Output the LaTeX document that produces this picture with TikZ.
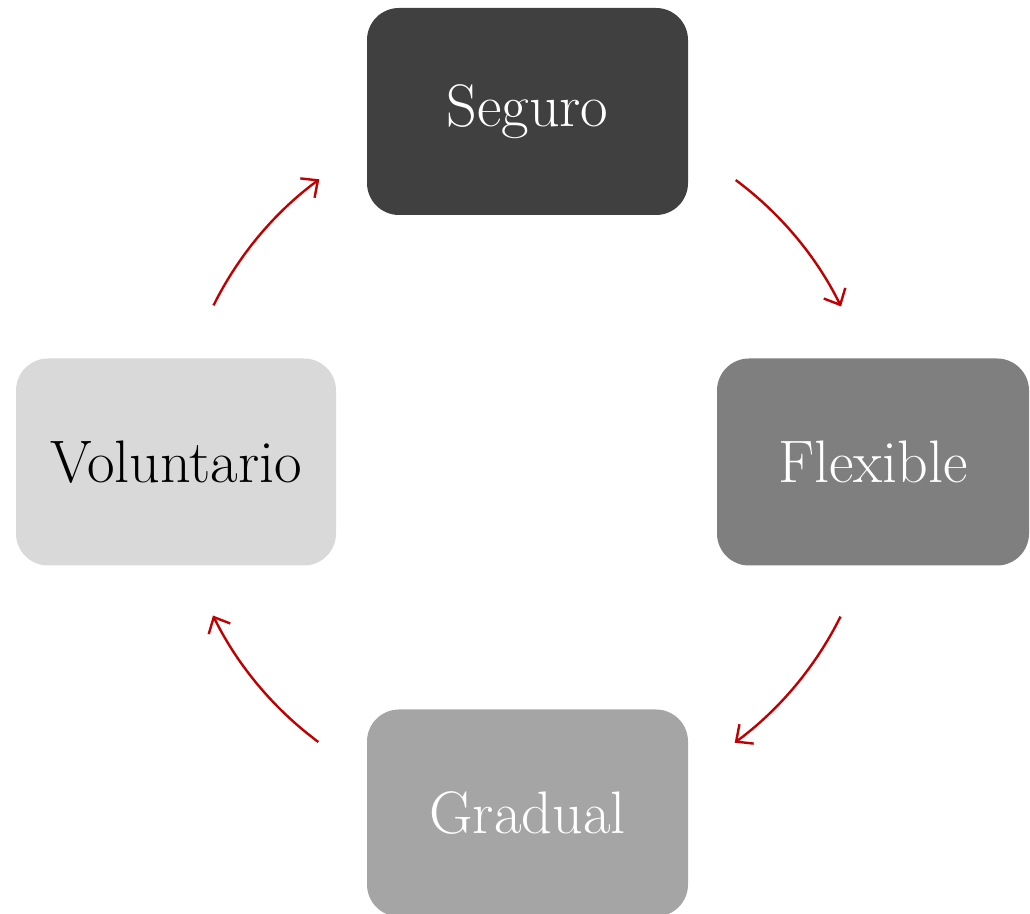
\documentclass[tikz,border=0pt]{standalone}
\usetikzlibrary{arrows.meta}
\definecolor{cA}{HTML}{404040}
\definecolor{cB}{HTML}{7F7F7F}
\definecolor{cC}{HTML}{A5A5A5}
\definecolor{cD}{HTML}{D9D9D9}
\definecolor{arrred}{HTML}{C00000}
\begin{document}
\begin{tikzpicture}[x=1pt,y=1pt,
  box/.style={rounded corners=32pt, inner sep=0pt, minimum height=207pt,
    font=\fontsize{60}{64}\selectfont},
  arr/.style={draw=arrred, line width=2.4pt, -{Straight Barb[length=13pt,width=24pt,line width=2.4pt]}}]
\useasboundingbox (0,0) rectangle (1030,913);
\begin{scope}
\clip (0,0) rectangle (1030,913);
\node[box, fill=cA, text=white, minimum width=321pt] (seg) at (527.5,801.5) {Seguro};
\node[box, fill=cB, text=white, minimum width=312pt] (flex) at (873,451) {Flexible};
\node[box, fill=cC, text=white, minimum width=321pt] (grad) at (527.5,100) {Gradual};
\node[box, fill=cD, text=black, minimum width=320pt] (vol) at (176,451) {Voluntario};
\end{scope}
\coordinate (c) at (527,452);
\draw[arr] ([shift={(53.4:350)}]c) arc[start angle=53.4, end angle=26.2, radius=350];
\draw[arr] ([shift={(-26.4:350)}]c) arc[start angle=-26.4, end angle=-53.6, radius=350];
\draw[arr] ([shift={(233.4:350)}]c) arc[start angle=233.4, end angle=206.2, radius=350];
\draw[arr] ([shift={(153.6:350)}]c) arc[start angle=153.6, end angle=126.4, radius=350];
\end{tikzpicture}
\end{document}
